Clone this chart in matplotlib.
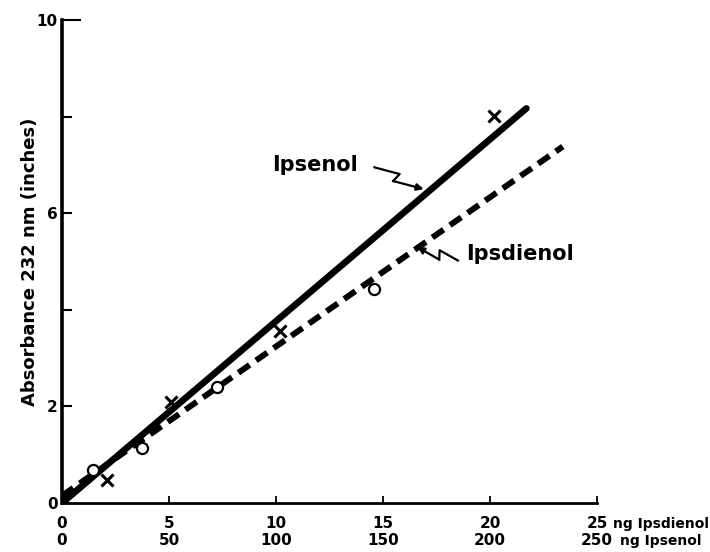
import numpy as np
import matplotlib
matplotlib.use("Agg")
from matplotlib import pyplot as plt

# ng Ipsdienol scale on x (Ipsenol = 10x), absorbance in inches on y
ipsenol_x = [2.1, 5.1, 10.2, 20.2]
ipsenol_y = [0.48, 2.1, 3.56, 8.02]
ipsdienol_x = [1.45, 3.74, 7.24, 14.6]
ipsdienol_y = [0.69, 1.14, 2.41, 4.43]

# fitted lines (end points)
ipsenol_line_x = [0, 21.7]
ipsenol_line_y = [0, 8.17]
ipsdienol_line_x = [0, 23.4]
ipsdienol_line_y = [0.15, 7.38]

xticks = [0, 5, 10, 15, 20, 25]
xlabels_dienol = ["0", "5", "10", "15", "20", "25"]
xlabels_enol = ["0", "50", "100", "150", "200", "250"]
yticks = [0, 2, 4, 6, 8, 10]
ylabels = ["0", "2", "", "6", "", "10"]

plt.rcParams['font.family'] = ['DejaVu Sans']
plt.rcParams['font.weight'] = 'bold'

fig = plt.figure(figsize=(7.1, 5.52), dpi=100)
ax = fig.add_axes([62 / 710, 1 - 503 / 552, 535 / 710, 483 / 552])

ax.plot(ipsenol_line_x, ipsenol_line_y, color='black', lw=4.8,
        solid_capstyle='round')
ax.plot(ipsdienol_line_x, ipsdienol_line_y, color='black', lw=4.3,
        linestyle=(0, (2.3, 1.3)), dash_capstyle='butt')
ax.plot(ipsenol_x, ipsenol_y, 'x', color='black', ms=9, mew=2.2)
ax.plot(ipsdienol_x, ipsdienol_y, 'o', color='black', mfc='white',
        ms=8, mew=1.6)

ax.set_xlim(0, 25)
ax.set_ylim(0, 10)
ax.spines['top'].set_visible(False)
ax.spines['right'].set_visible(False)
ax.spines['left'].set_linewidth(2.6)
ax.spines['bottom'].set_linewidth(2.0)

ax.set_yticks(yticks)
ax.set_yticklabels(ylabels, fontsize=11, fontweight='bold')
ax.tick_params(axis='y', direction='in', length=7, width=1.5, pad=3)
ax.yaxis.get_major_ticks()[-1].tick1line.set_markersize(14)

ax.set_xticks(xticks)
ax.set_xticklabels([a + "\n" + b for a, b in zip(xlabels_dienol, xlabels_enol)],
                   fontsize=11, fontweight='bold', linespacing=1.2)
ax.tick_params(axis='x', direction='in', length=5, width=1.3, pad=9)
ax.xaxis.get_major_ticks()[0].tick1line.set_visible(False)

fig.text(613 / 710, 1 - 524 / 552, "ng Ipsdienol", fontsize=10,
         fontweight='bold', va='center', ha='left')
fig.text(620 / 710, 1 - 541 / 552, "ng Ipsenol", fontsize=10,
         fontweight='bold', va='center', ha='left')

ax.set_ylabel("Absorbance 232 nm (inches)", fontsize=13, fontweight='bold',
              labelpad=-2)


def squiggle(tail, head, sign=1):
    # lightning-shaped pointer from label to line
    to_disp = ax.transData.transform
    to_data = ax.transData.inverted().transform
    t = np.array(to_disp(tail))
    h = np.array(to_disp(head))
    d = h - t
    n = np.array([-d[1], d[0]]) / np.hypot(*d) * sign
    p1 = t + 0.48 * d + n * 4
    p2 = t + 0.42 * d - n * 5
    pts = to_data(np.vstack([t, p1, p2]))
    ax.plot(pts[:, 0], pts[:, 1], color='black', lw=1.6)
    ax.annotate('', xy=head, xytext=tuple(pts[-1]),
                arrowprops=dict(arrowstyle='-|>', color='black', lw=1.6,
                                mutation_scale=10, shrinkA=0, shrinkB=0))


ax.text(9.8, 7.0, "Ipsenol", fontsize=15, fontweight='bold',
        va='center', ha='left')
squiggle((14.6, 6.95), (16.9, 6.5), sign=1)

ax.text(18.9, 5.15, "Ipsdienol", fontsize=15, fontweight='bold',
        va='center', ha='left')
squiggle((18.5, 5.02), (16.6, 5.3), sign=-1)

fig.savefig("out.png", dpi=100)
